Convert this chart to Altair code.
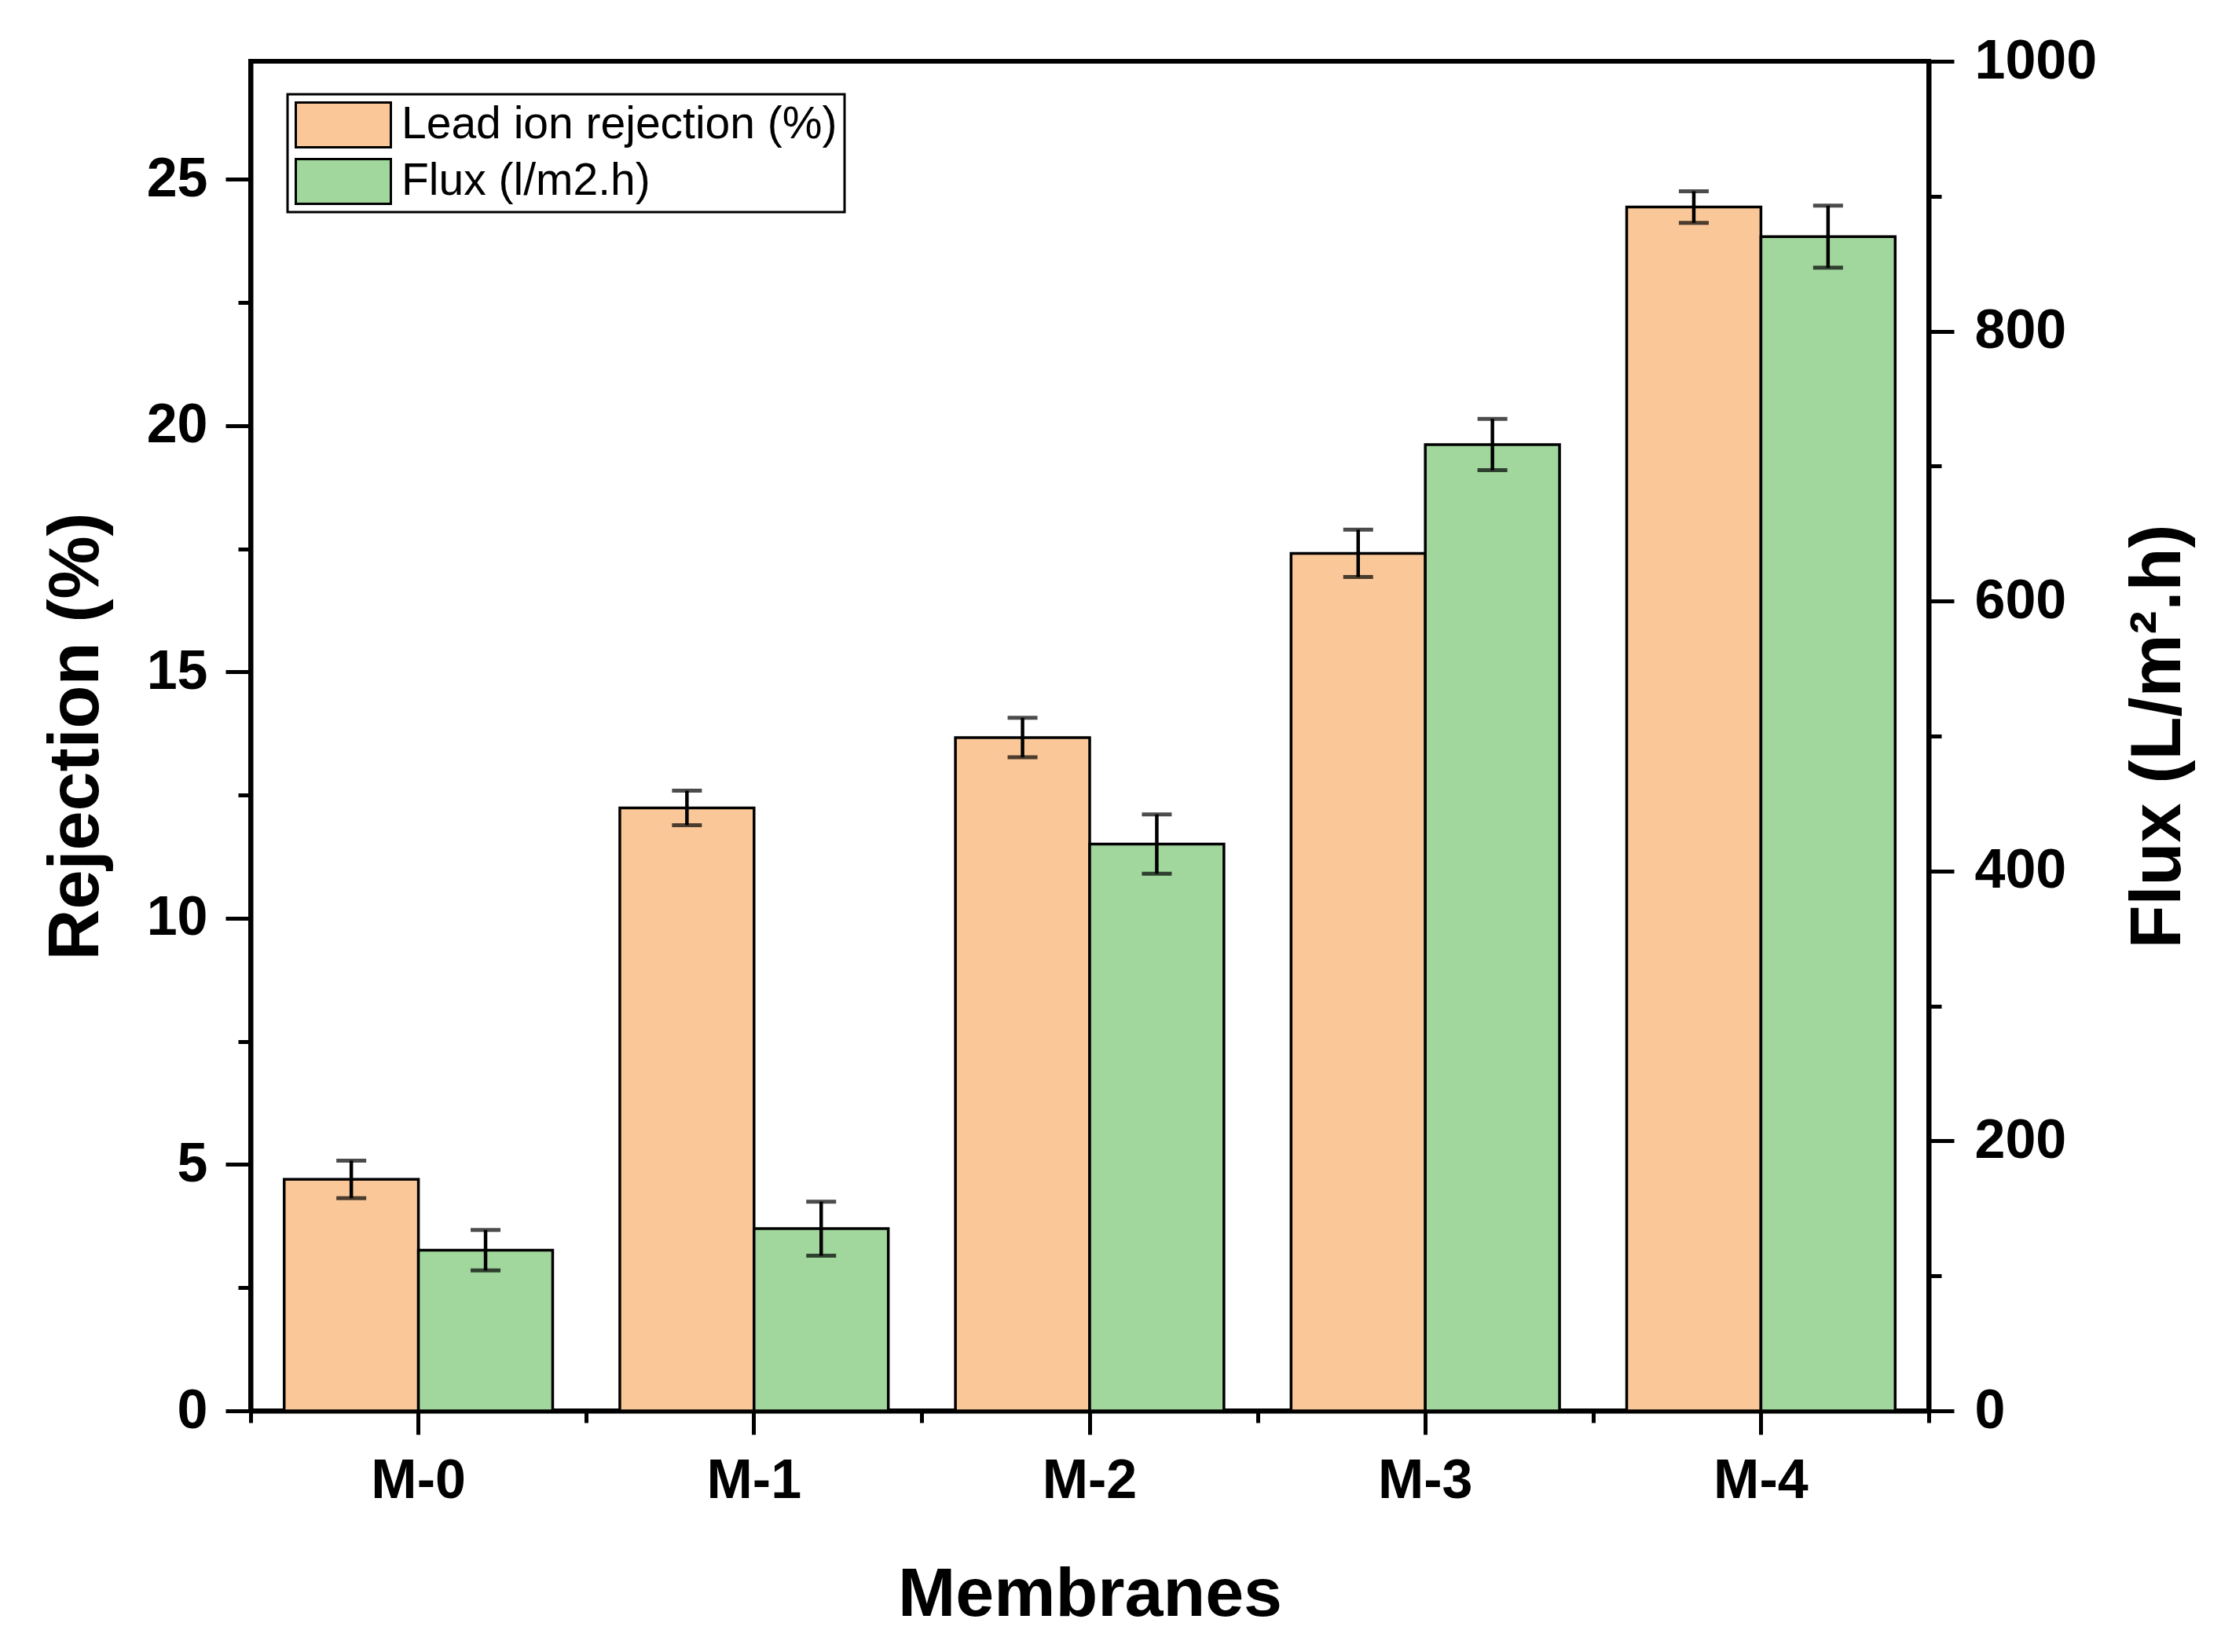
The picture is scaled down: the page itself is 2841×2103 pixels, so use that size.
import altair as alt
import pandas as pd

# ---- data ----
membranes = ["M-0", "M-1", "M-2", "M-3", "M-4"]
rejection = [4.70, 12.24, 13.67, 17.41, 24.44]
rejection_err = [0.38, 0.35, 0.40, 0.48, 0.32]
flux = [119, 135, 420, 716, 870]
flux_err = [15, 20, 22, 19, 23]
series_names = ["Lead ion rejection (%)", "Flux (l/m2.h)"]
colors = ["#FAC898", "#A1D69D"]
left_ticks = [0, 2.5, 5, 7.5, 10, 12.5, 15, 17.5, 20, 22.5, 25, 27.5]
right_ticks = [0, 100, 200, 300, 400, 500, 600, 700, 800, 900, 1000]
left_title = "Rejection (%)"
right_title = "Flux (L/m\u00b2.h)"
x_title = "Membranes"

rows = []
for i, m in enumerate(membranes):
    rows.append(dict(membrane=m, series=series_names[0], value=rejection[i],
                     lo=rejection[i] - rejection_err[i], hi=rejection[i] + rejection_err[i]))
    rows.append(dict(membrane=m, series=series_names[1], value=flux[i],
                     lo=flux[i] - flux_err[i], hi=flux[i] + flux_err[i]))
df = pd.DataFrame(rows)

FONT = "Liberation Sans"

x_scale = alt.Scale(domain=membranes, paddingInner=0, paddingOuter=0)
xoff_scale = alt.Scale(domain=series_names, paddingInner=0, paddingOuter=0.25)
color_scale = alt.Scale(domain=series_names, range=colors)
left_scale = alt.Scale(domain=[0, 27.4], nice=False, zero=True)
right_scale = alt.Scale(domain=[0, 1000], nice=False, zero=True)

x_main = alt.Axis(title=x_title, orient="bottom", labelAngle=0, tickSize=30, labelPadding=25,
                  titlePadding=66, labelFontSize=70, titleFontSize=88, grid=False)
x_minor = alt.Axis(title=None, orient="bottom", labels=False, domain=False, tickBand="extent",
                   tickSize=15, grid=False)

y_left_axis = alt.Axis(
    title=left_title, orient="left", values=left_ticks,
    labelExpr="datum.value % 5 === 0 ? '' + datum.value : ''",
    tickSize=32,
    tickDash={"condition": {"test": "datum.value % 5 !== 0", "value": [16, 60]}, "value": [100, 0]},
    labelPadding=23, titlePadding=43, titleFontSize=90, labelFontSize=70, grid=False,
)
y_right_axis = alt.Axis(
    title=right_title, orient="right", values=right_ticks,
    labelExpr="datum.value % 200 === 0 ? '' + datum.value : ''",
    tickSize=32,
    tickDash={"condition": {"test": "datum.value % 200 !== 0", "value": [16, 60]}, "value": [100, 0]},
    labelPadding=26, titlePadding=48, titleFontSize=90, labelFontSize=70,
    titleAngle=270, titleBaseline="top", grid=False,
)

legend_def = alt.Legend(
    title=None, orient="none", legendX=47, legendY=42, direction="vertical",
    symbolType="M-1,-0.471L1,-0.471L1,0.471L-1,0.471Z", symbolSize=14641,
    symbolStrokeColor="black", symbolStrokeWidth=3, symbolOpacity=1,
    labelFont=FONT, labelFontSize=57, labelFontWeight="normal", labelColor="black",
    labelOffset=12, labelLimit=0, strokeColor="black", fillColor="white",
    padding=9, rowPadding=12, clipHeight=60,
)

orange = alt.Chart(df).transform_filter(alt.datum.series == series_names[0])
green = alt.Chart(df).transform_filter(alt.datum.series == series_names[1])

err_mark = dict(color="black", thickness=4.5,
                rule={"strokeWidth": 4.5},
                ticks={"size": 38, "thickness": 5})

orange_bar = orange.mark_bar(stroke="black", strokeWidth=3.5).encode(
    x=alt.X("membrane:N", scale=x_scale, axis=x_main, sort=membranes),
    xOffset=alt.XOffset("series:N", scale=xoff_scale),
    y=alt.Y("value:Q", scale=left_scale, axis=y_left_axis),
    color=alt.Color("series:N", scale=color_scale, legend=legend_def),
)
orange_err = orange.mark_errorbar(**err_mark).encode(
    x=alt.X("membrane:N", scale=x_scale, sort=membranes, title=x_title),
    xOffset=alt.XOffset("series:N", scale=xoff_scale),
    y=alt.Y("lo:Q", scale=left_scale, title=left_title),
    y2="hi:Q",
)

green_bar = green.mark_bar(stroke="black", strokeWidth=3.5).encode(
    x=alt.X("membrane:N", scale=x_scale, axis=x_minor, sort=membranes),
    xOffset=alt.XOffset("series:N", scale=xoff_scale),
    y=alt.Y("value:Q", scale=right_scale, axis=y_right_axis),
    color=alt.Color("series:N", scale=color_scale, legend=legend_def),
)
green_err = green.mark_errorbar(**err_mark).encode(
    x=alt.X("membrane:N", scale=x_scale, sort=membranes, title=None),
    xOffset=alt.XOffset("series:N", scale=xoff_scale),
    y=alt.Y("lo:Q", scale=right_scale, title=right_title),
    y2="hi:Q",
)

left_layer = alt.layer(orange_bar, orange_err)
right_layer = alt.layer(green_bar, green_err)

chart = (
    alt.layer(left_layer, right_layer)
    .resolve_scale(y="independent")
    .resolve_axis(x="independent")
    .properties(
        width=2136, height=1718,
        autosize=alt.AutoSizeParams(type="none"),
        padding={"left": 311, "top": 70, "right": 378, "bottom": 299},
        background="white",
    )
    .configure_axis(
        labelFont=FONT, titleFont=FONT, labelFontWeight="bold", titleFontWeight="bold",
        labelColor="black", titleColor="black", domainColor="black", domainWidth=6,
        tickColor="black", tickWidth=5,
    )
    .configure_legend(strokeWidth=3)
    .configure_view(stroke="black", strokeWidth=6)
)

chart.save("out.html", embed_options={"renderer": "svg", "actions": False})
